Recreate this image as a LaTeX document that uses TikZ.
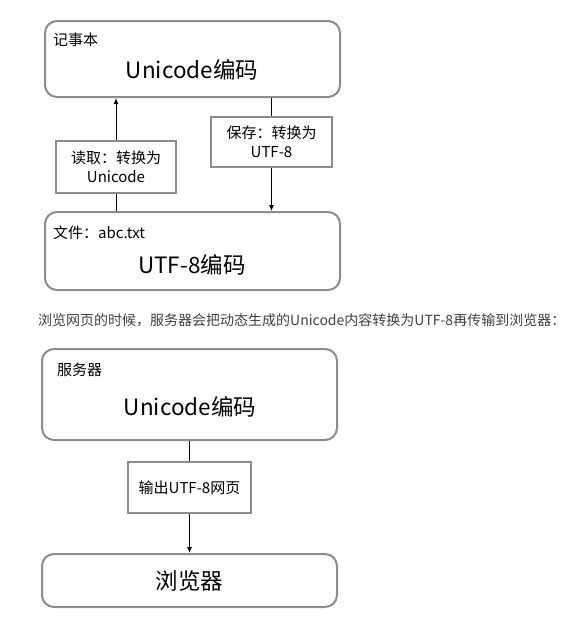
\documentclass[tikz,border=0pt]{standalone}
\usepackage{fontspec}
\setmainfont{Noto Sans CJK SC}
\usetikzlibrary{positioning,arrows.meta}
\definecolor{kader}{HTML}{8C8C8C}
\definecolor{tekst}{HTML}{404040}

\begin{document}
\begin{tikzpicture}[
        x=1pt, y=-1pt, % coordinates in pixels, y downwards
        blok/.style={draw=kader, line width=2pt, rounded corners=12pt, inner sep=0pt}, % big rounded boxes
        conv/.style={draw=kader, line width=2pt, align=center, inner sep=0pt, font=\fontsize{15}{19}\selectfont}, % conversion steps
        titel/.style={anchor=west, inner sep=0pt, font=\fontsize{15}{18}\selectfont},
        groot/.style={inner sep=0pt, font=\fontsize{22.5}{27}\selectfont},
        pijl/.style={-{Latex[length=6pt,width=5pt]}, line width=1pt},
        lijn/.style={line width=1pt},
    ]
    \useasboundingbox (0,0) rectangle (584,629);

    % notepad and file
    \node[blok, minimum width=295, minimum height=76] (notepad) at (192.5,59) {};
    \node[titel] (notepadtitel) at (53,40) {记事本};
    \node[groot] (notepadtekst) at (192,70) {Unicode编码};

    \node[conv, minimum width=120, minimum height=52] (read) at (116,167) {读取：转换为\\Unicode};
    \node[conv, minimum width=121, minimum height=50] (save) at (271.5,142) {保存：转换为\\UTF-8};

    \node[blok, minimum width=295, minimum height=78] (file) at (192.5,251) {};
    \node[titel] (filetitel) at (53,233) {文件：abc.txt};
    \node[groot] (filetekst) at (192,265) {UTF-8编码};

    \draw[lijn] (file.north -| read) -- (read);
    \draw[pijl] (read) -- (read |- notepad.south);
    \draw[lijn] (notepad.south -| save) -- (save);
    \draw[pijl] (save) -- (save |- file.north);

    % caption
    \node[titel, text=tekst, font=\fontsize{14}{17}\selectfont] (uitleg) at (38,320)
        {浏览网页的时候，服务器会把动态生成的Unicode内容转换为UTF-8再传输到浏览器：};

    % server and browser
    \node[blok, minimum width=295, minimum height=91] (server) at (189.5,394.5) {};
    \node[titel] (servertitel) at (57,370) {服务器};
    \node[groot] (servertekst) at (190,407) {Unicode编码};

    \node[conv, minimum width=123, minimum height=51] (output) at (189.5,487.5) {输出UTF-8网页};

    \node[blok, minimum width=295, minimum height=53, font=\fontsize{22.5}{27}\selectfont] (browser) at (189.5,580.5) {浏览器};

    \draw[lijn] (server) -- (output);
    \draw[pijl] (output) -- (browser);
\end{tikzpicture}
\end{document}
